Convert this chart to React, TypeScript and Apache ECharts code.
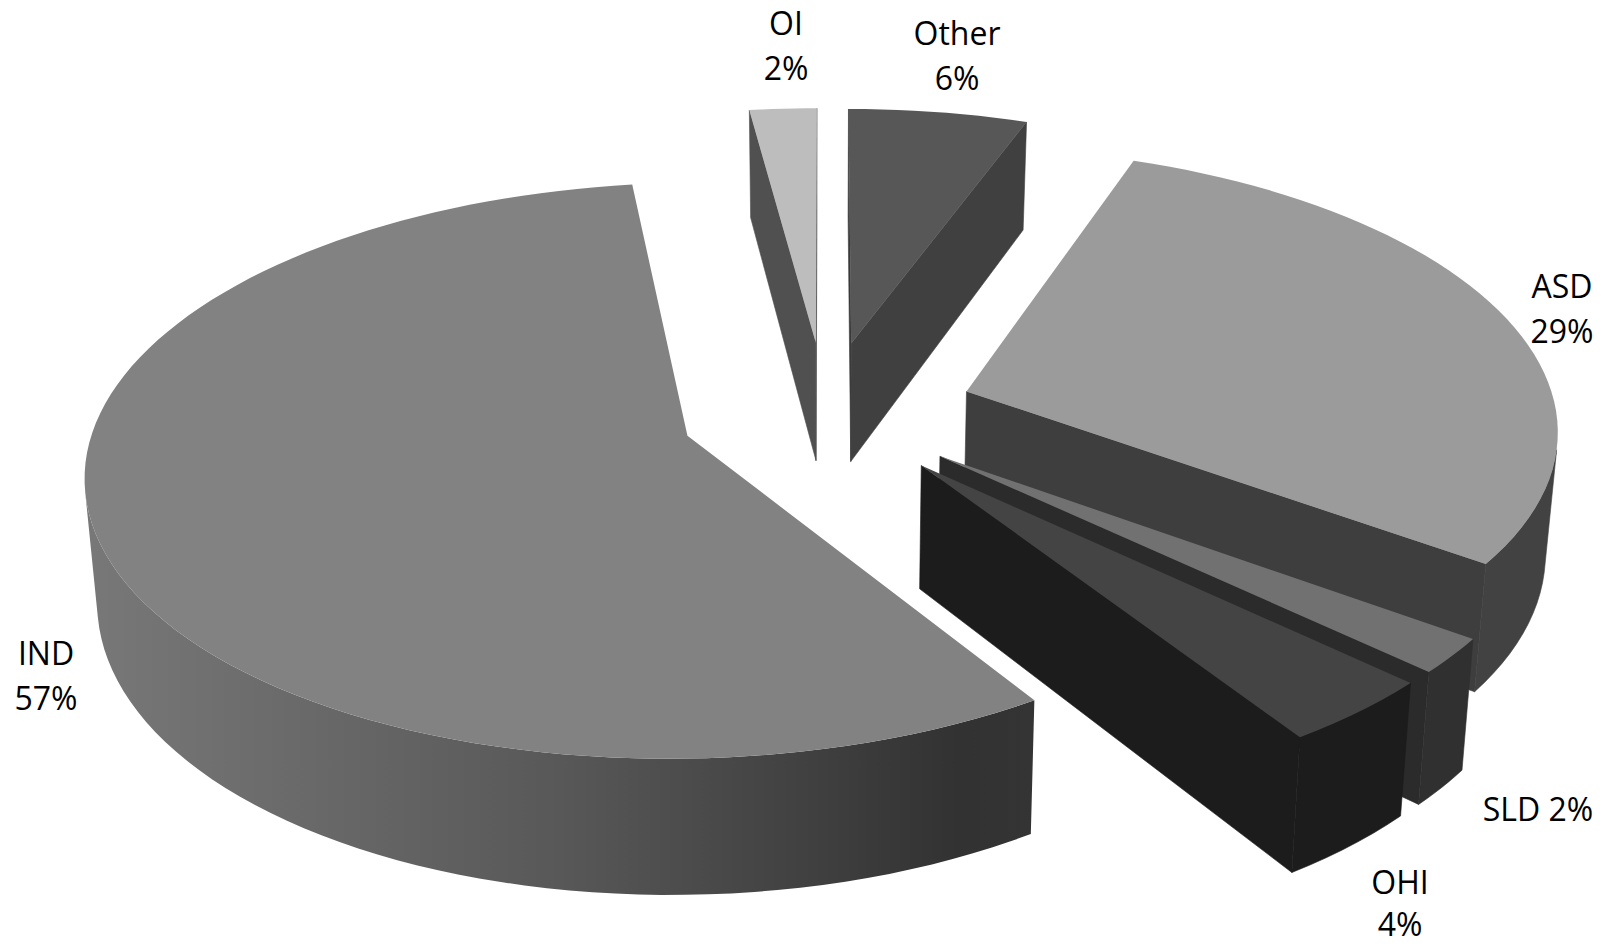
import React, { useEffect, useRef } from "react";
import * as echarts from "echarts";

// Clockwise from 12 o'clock, as in the source pie
const sliceNames = ["Other", "ASD", "SLD", "OHI", "IND", "OI"];
const sliceShares = [5.6, 29.4, 2, 3.8, 57.1, 2.1];
// Back-to-front painting order (indices into the arrays above)
const paintOrder = [5, 0, 1, 2, 3, 4];

const labelLines: Record<string, string[]> = {
  Other: ["Other", "6%"],
  ASD: ["ASD", "29%"],
  SLD: ["SLD 2%"],
  OHI: ["OHI", "4%"],
  IND: ["IND", "57%"],
  OI: ["OI", "2%"],
};
const labelAnchor: Record<string, [number, number]> = {
  Other: [957, 32],
  ASD: [1562, 285],
  SLD: [1538, 808],
  OHI: [1400, 881],
  IND: [46, 652],
  OI: [786, 22],
};
const labelSpacing: Record<string, number> = { Other: 45, ASD: 45, SLD: 45, OHI: 42, IND: 45, OI: 45 };
const explode: Record<string, number> = {
  Other: 0.256, ASD: 0.252, SLD: 0.247, OHI: 0.247, IND: 0.247, OI: 0.256,
};
const topColors: Record<string, string> = {
  Other: "#575757", ASD: "#9b9b9b", SLD: "#717171", OHI: "#444444", IND: "#828282", OI: "#bdbdbd",
};
const startWallColors: Record<string, string> = {
  Other: "#3a3a3a", ASD: "#3e3e3e", SLD: "#2b2b2b", OHI: "#1c1c1c", IND: "#333333", OI: "#505050",
};
const endWallColors: Record<string, string> = {
  Other: "#404040", ASD: "#3e3e3e", SLD: "#2b2b2b", OHI: "#1c1c1c", IND: "#333333", OI: "#505050",
};
const outerColors: Record<string, any> = {
  Other: "#404040", ASD: "#424242", SLD: "#303030", OHI: "#1c1c1c", OI: "#505050",
  IND: new echarts.graphic.LinearGradient(0, 0, 1, 0, [
    { offset: 0, color: "#787878" },
    { offset: 0.5, color: "#585858" },
    { offset: 0.92, color: "#323232" },
    { offset: 1, color: "#343434" },
  ]),
};

// Projection of the tilted pie
const CX = 825.5, CY = 411.6, SX = 590, SY = 278, PERSP = 0.12, DEPTH = 121, DEPTH_POW = 0.85, SHRINK = 0.983;
type Pt = [number, number];
function project(X: number, Y: number): { top: Pt; bottom: Pt } {
  const w = 1 + PERSP * Y;
  const u = CX + (SX * X) / w;
  const v = CY - (SY * Y) / w;
  return { top: [u, v], bottom: [CX + (u - CX) * SHRINK, v + DEPTH / Math.pow(w, DEPTH_POW)] };
}
const area = (p: Pt[]) => {
  let s = 0;
  for (let i = 0; i < p.length; i++) {
    const a = p[i], b = p[(i + 1) % p.length];
    s += a[0] * b[1] - b[0] * a[1];
  }
  return s / 2;
};
const total = sliceShares.reduce((a, b) => a + b, 0);

function renderSlice(params: any) {
  const idx = paintOrder[params.dataIndex];
  const name = sliceNames[idx];
  const before = sliceShares.slice(0, idx).reduce((a, b) => a + b, 0);
  const a0 = (before / total) * Math.PI * 2;
  const a1 = ((before + sliceShares[idx]) / total) * Math.PI * 2;
  const mid = (a0 + a1) / 2;
  const ox = explode[name] * Math.sin(mid), oy = explode[name] * Math.cos(mid);
  const steps = Math.max(6, Math.ceil(((a1 - a0) / (Math.PI * 2)) * 180));
  const rim: { top: Pt; bottom: Pt }[] = [];
  for (let i = 0; i <= steps; i++) {
    const t = a0 + ((a1 - a0) * i) / steps;
    rim.push(project(ox + Math.sin(t), oy + Math.cos(t)));
  }
  const apex = project(ox, oy);
  const children: any[] = [];
  const poly = (points: Pt[], fill: any, seal = true) =>
    children.push({
      type: "polygon",
      shape: { points },
      style: { fill, stroke: seal ? fill : "none", lineWidth: seal ? 0.6 : 0 },
    });
  const wall = (a: { top: Pt; bottom: Pt }, b: { top: Pt; bottom: Pt }, fill: any) => {
    const q: Pt[] = [a.top, b.top, b.bottom, a.bottom];
    if (area(q) < 0) poly(q, fill);
  };
  wall(apex, rim[0], startWallColors[name]);
  wall(rim[steps], apex, endWallColors[name]);
  // outer curved wall: contiguous camera-facing runs
  let run: { top: Pt; bottom: Pt }[] = [];
  const flush = () => {
    if (run.length > 1) {
      poly(
        [...run.map((r) => r.top), ...run.slice().reverse().map((r) => r.bottom)],
        outerColors[name],
        typeof outerColors[name] === "string"
      );
    }
    run = [];
  };
  for (let i = 0; i < steps; i++) {
    const q: Pt[] = [rim[i].top, rim[i + 1].top, rim[i + 1].bottom, rim[i].bottom];
    if (area(q) < 0) {
      if (!run.length) run.push(rim[i]);
      run.push(rim[i + 1]);
    } else flush();
  }
  flush();
  poly([apex.top, ...rim.map((r) => r.top)], topColors[name], false);
  const [lx, ly] = labelAnchor[name];
  labelLines[name].forEach((line, i) => {
    children.push({
      type: "text",
      x: lx,
      y: ly + i * labelSpacing[name],
      z2: 100,
      style: {
        text: line,
        fill: "#000000",
        font: '32px "Open Sans", sans-serif',
        lineHeight: 32,
        align: "center",
        verticalAlign: "middle",
      },
    });
  });
  return { type: "group", children };
}

export default function App() {
  const ref = useRef<HTMLDivElement>(null);
  useEffect(() => {
    document.body.style.margin = "0";
    document.body.style.overflow = "hidden";
    const chart = echarts.init(ref.current!, undefined, { renderer: "svg" });
    chart.setOption({
      animation: false,
      backgroundColor: "#ffffff",
      tooltip: { show: false },
      series: [
        {
          type: "custom",
          coordinateSystem: "none",
          silent: true,
          renderItem: renderSlice,
          data: paintOrder.map((i) => ({ name: sliceNames[i], value: sliceShares[i] })),
        },
      ],
    });
    return () => chart.dispose();
  }, []);
  return <div ref={ref} style={{ width: 1602, height: 946 }} />;
}
